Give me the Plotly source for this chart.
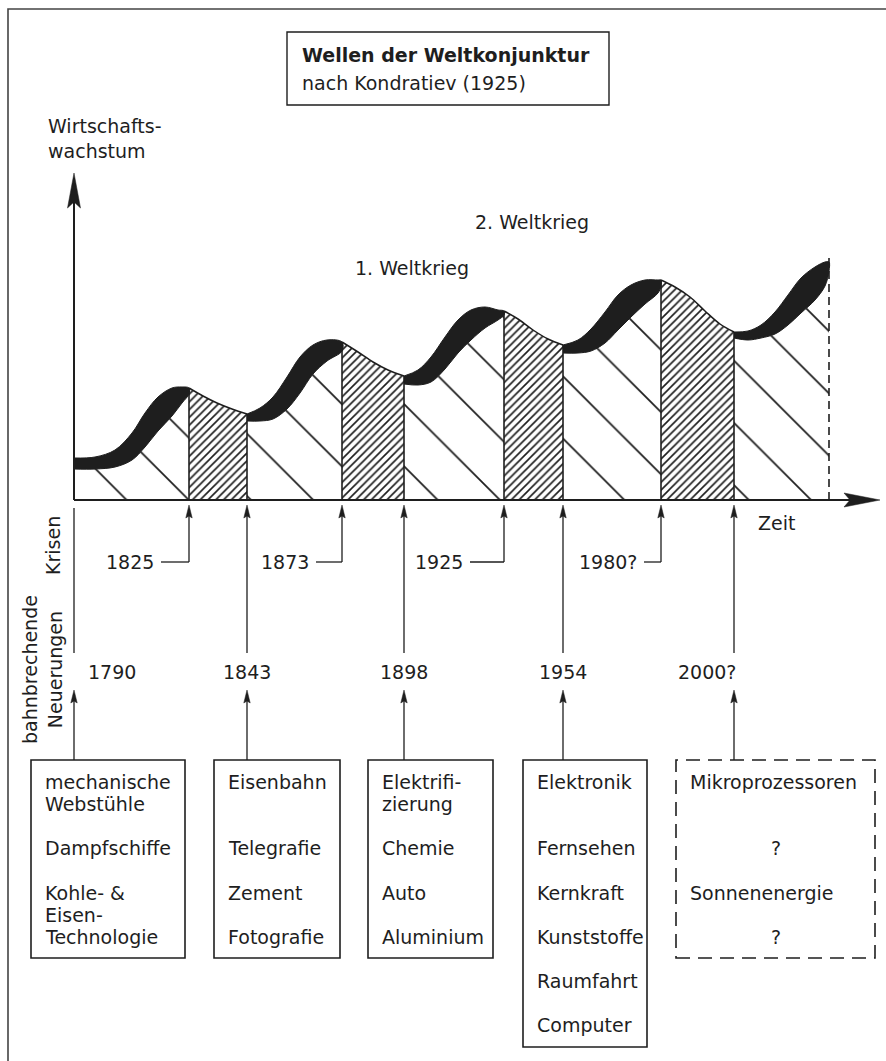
import plotly.graph_objects as go

FONT = "DejaVu Sans"
INK = "#1e1e1e"
FS = 19

# ---------------------------------------------------------------- data
# Schematic "Zeit" axis and "Wirtschaftswachstum" axis, in drawing units
krisen_jahre = ["1825", "1873", "1925", "1980?"]
neuerung_jahre = ["1790", "1843", "1898", "1954", "2000?"]

# Aufschwung phases (from innovation to crisis): crest of the wave and
# lower edge of the black band
auf_t = [
    [0, 21, 41, 58, 71, 84, 98, 108, 115],
    [173, 186, 199, 213, 226, 239, 253, 268],
    [330, 344, 357, 371, 384, 397, 411, 424, 430],
    [489, 504, 517, 531, 544, 557, 571, 584, 587],
    [660, 674, 687, 701, 714, 727, 741, 751, 755],
]
auf_oben = [
    [42, 43, 50, 67, 87, 103, 112, 113, 112],
    [86, 92, 103, 123, 143, 155, 160, 158],
    [124, 130, 143, 163, 180, 190, 193, 190, 189],
    [155, 160, 171, 188, 205, 215, 220, 220, 220],
    [168, 169, 175, 188, 205, 222, 233, 238, 238],
]
auf_unten = [
    [31, 31, 33, 40, 53, 69, 84, 97, 106],
    [79, 79, 81, 91, 107, 126, 139, 149],
    [116, 115, 118, 131, 147, 160, 172, 180, 185],
    [147, 147, 149, 157, 170, 183, 196, 207, 214],
    [162, 160, 162, 166, 175, 187, 200, 214, 229],
]

# Abschwung phases (from crisis to next innovation)
ab_t = [
    [115, 129, 143, 158, 173],
    [268, 284, 299, 314, 330],
    [430, 444, 459, 474, 489],
    [587, 601, 616, 631, 646, 660],
]
ab_wert = [
    [112, 104, 97, 91, 86],
    [158, 148, 138, 130, 124],
    [189, 181, 170, 161, 155],
    [220, 213, 203, 189, 176, 168],
]
ende_hoehe = 245

neuerungen = [
    ["mechanische", "Webstühle", "", "Dampfschiffe", "", "Kohle- &", "Eisen-", "Technologie"],
    ["Eisenbahn", "", "", "Telegrafie", "", "Zement", "", "Fotografie"],
    ["Elektrifi-", "zierung", "", "Chemie", "", "Auto", "", "Aluminium"],
    ["Elektronik", "", "", "Fernsehen", "", "Kernkraft", "", "Kunststoffe", "", "Raumfahrt", "", "Computer"],
    ["Mikroprozessoren", "", "", "?", "", "Sonnenenergie", "", "?"],
]

# ---------------------------------------------------------------- layout constants
krisen_t = [t[0] for t in ab_t]
neu_t = [t[0] for t in auf_t]
ende_t = auf_t[-1][-1]

box_x = [(-43, 111), (140, 266), (294, 419), (449, 573), (602, 801)]
box_top = -260
box_bottom = [-458, -458, -458, -547, -458]
row0, pitch = -282, 22.1
krisen_verbinder = [28, 26, 34, 17]

fig = go.Figure()

sparse = dict(shape="\\", size=44, solidity=0.04, fgcolor=INK, bgcolor="white", fillmode="replace")
dense = dict(shape="/", size=5.5, solidity=0.3, fgcolor=INK, bgcolor="white", fillmode="replace")

# sparse hatch under the upswing band
for t, lo in zip(auf_t, auf_unten):
    fig.add_trace(go.Scatter(x=t, y=lo, mode="lines", line=dict(width=0, shape="spline", color=INK),
                             fill="tozeroy", fillcolor="white", fillpattern=sparse, hoverinfo="skip"))
# dense hatch of the downswing phases
for t, v in zip(ab_t, ab_wert):
    fig.add_trace(go.Scatter(x=t, y=v, mode="lines", line=dict(width=1.5, shape="spline", color=INK),
                             fill="tozeroy", fillcolor="white", fillpattern=dense, hoverinfo="skip"))
# black band of the upswing
for t, hi, lo in zip(auf_t, auf_oben, auf_unten):
    fig.add_trace(go.Scatter(x=t + t[::-1], y=hi + lo[::-1], mode="lines", fill="toself",
                             fillcolor=INK, line=dict(width=1, color=INK, shape="spline"), hoverinfo="skip"))
# vertical phase boundaries
vx, vy = [], []
for t, v in zip(ab_t, ab_wert):
    for i in (0, -1):
        vx += [t[i], t[i], None]
        vy += [0, v[i], None]
fig.add_trace(go.Scatter(x=vx, y=vy, mode="lines", line=dict(width=1.6, color=INK), hoverinfo="skip"))
fig.add_trace(go.Scatter(x=[ende_t, ende_t], y=[0, ende_hoehe], mode="lines",
                         line=dict(width=1.6, color=INK, dash="8px,5px"), hoverinfo="skip"))

shapes = []


def line(x0, y0, x1, y1, w=1.3, dash=None):
    shapes.append(dict(type="line", x0=x0, y0=y0, x1=x1, y1=y1, xref="x", yref="y",
                       line=dict(color=INK, width=w, dash=dash)))


def head_up(x, tip, length=13, half=3.2, notch=2):
    shapes.append(dict(type="path", xref="x", yref="y", fillcolor=INK, line=dict(width=0.5, color=INK),
                       path=f"M{x},{tip} L{x-half},{tip-length} L{x},{tip-length+notch} L{x+half},{tip-length} Z"))


# axes
line(0, 0, 0, 300, w=2)
head_up(0, 327, length=35, half=6.5, notch=6)
line(0, 0, 780, 0, w=2.2)
shapes.append(dict(type="path", xref="x", yref="y", fillcolor=INK, line=dict(width=0.5, color=INK),
                   path="M806,0 L770,7 L776,0 L770,-7 Z"))

# crisis arrows
for t, L in zip(krisen_t, krisen_verbinder):
    line(t, -62, t, -12)
    head_up(t, -5)
    line(t - L, -62, t, -62)

# innovation arrows
for i, t in enumerate(neu_t):
    if i == 0:
        line(t, -8, t, -153)
    else:
        line(t, -12, t, -153)
        head_up(t, -5)
    line(t, box_top, t, -197)
    head_up(t, -190)

# boxes
for i, ((x0, x1), yb) in enumerate(zip(box_x, box_bottom)):
    shapes.append(dict(type="rect", xref="x", yref="y", x0=x0, x1=x1, y0=yb, y1=box_top,
                       line=dict(color=INK, width=1.6, dash="14px,8px" if i == 4 else None)))

# title box and frame
shapes.append(dict(type="rect", xref="x", yref="y", x0=213, x1=535, y0=395, y1=468,
                   line=dict(color=INK, width=1.4)))
shapes.append(dict(type="rect", xref="x", yref="y", x0=-66, x1=830, y0=-580, y1=491,
                   line=dict(color="#444", width=1.6)))

ann = []


def txt(x, y, s, xa="left", ya="middle", angle=0, size=FS, align="left"):
    ann.append(dict(x=x, y=y, text=s, showarrow=False, xanchor=xa, yanchor=ya, textangle=angle,
                    align=align, xref="x", yref="y", font=dict(family=FONT, size=size, color=INK)))


txt(226, 445, "<b>Wellen der Weltkonjunktur</b>")
txt(226, 417, "nach Kondratiev (1925)")
txt(-28, 362, "Wirtschafts-<br>wachstum")
txt(458, 278, "2. Weltkrieg", xa="center")
txt(338, 232, "1. Weltkrieg", xa="center")
txt(682, -23, "Zeit")
txt(-21, -46, "Krisen", xa="center", angle=-90)
txt(-32, -170, "bahnbrechende<br>Neuerungen", xa="center", angle=-90, align="center")

for t, L, s in zip(krisen_t, krisen_verbinder, krisen_jahre):
    txt(t - L - 5, -62, s, xa="right")

for i, (t, s) in enumerate(zip(neu_t, neuerung_jahre)):
    if i == 0:
        txt(t + 12, -172, s)
    elif i == len(neu_t) - 1:
        txt(t + 4, -172, s, xa="right")
    else:
        txt(t, -172, s, xa="center")

for i, ((x0, x1), lines) in enumerate(zip(box_x, neuerungen)):
    for r, s in enumerate(lines):
        if not s:
            continue
        if s == "?":
            txt((x0 + x1) / 2, row0 - r * pitch, s, xa="center")
        else:
            txt(x0 + 12, row0 - r * pitch, s)

fig.update_layout(
    width=886, height=1061, margin=dict(l=0, r=0, t=0, b=0),
    paper_bgcolor="white", plot_bgcolor="white", showlegend=False,
    xaxis=dict(range=[-74, 812], visible=False, fixedrange=True),
    yaxis=dict(range=[-561, 500], visible=False, fixedrange=True),
    shapes=shapes, annotations=ann,
)

fig.write_html("out.html", config={"displayModeBar": False},
               post_script="document.body.style.margin='0';document.body.style.overflow='hidden';")
